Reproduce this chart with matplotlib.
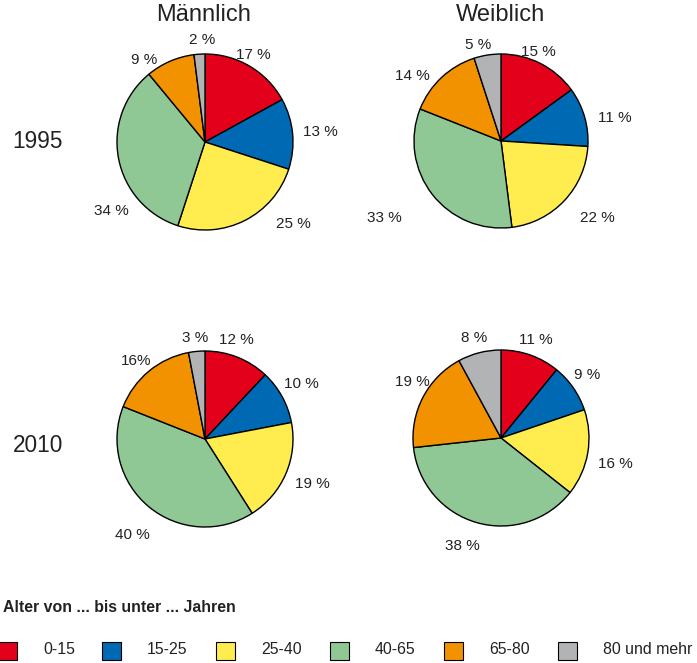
import matplotlib.pyplot as plt
from matplotlib.patches import Rectangle

plt.rcParams['font.family'] = ['Liberation Sans', 'DejaVu Sans']

# Altersgruppen und Farben
groups = ["0-15", "15-25", "25-40", "40-65", "65-80", "80 und mehr"]
colors = ["#E2001A", "#0069B4", "#FFED50", "#8FC895", "#F39200", "#B2B3B5"]

# Anteile in Prozent
m_1995 = [17, 13, 25, 34, 9, 2]
w_1995 = [15, 11, 22, 33, 14, 5]
m_2010 = [12, 10, 19, 40, 16, 3]
w_2010 = [11, 9, 16, 38, 19, 8]

m_1995_lbl = ["17 %", "13 %", "25 %", "34 %", "9 %", "2 %"]
w_1995_lbl = ["15 %", "11 %", "22 %", "33 %", "14 %", "5 %"]
m_2010_lbl = ["12 %", "10 %", "19 %", "40 %", "16%", "3 %"]
w_2010_lbl = ["11 %", "9 %", "16 %", "38 %", "19 %", "8 %"]

# Lage der Beschriftungen (in Radien, relativ zur Kreismitte)
pos_m_1995 = [(0.55, 0.99), (1.31, 0.11), (1.0, -0.93), (-1.06, -0.78), (-0.69, 0.93), (-0.03, 1.16)]
pos_w_1995 = [(0.43, 1.02), (1.31, 0.26), (1.11, -0.89), (-1.34, -0.89), (-1.02, 0.75), (-0.26, 1.10)]
pos_m_2010 = [(0.36, 1.13), (1.09, 0.63), (1.22, -0.51), (-0.83, -1.09), (-0.78, 0.89), (-0.11, 1.15)]
pos_w_2010 = [(0.39, 1.11), (0.98, 0.72), (1.30, -0.30), (-0.44, -1.23), (-1.01, 0.64), (-0.30, 1.14)]

# linke Kante der Legendenkästchen (Pixel)
legend_x = [-2, 102, 216, 330, 444, 558]

W, H = 697, 663
fig = plt.figure(figsize=(W / 100, H / 100), dpi=100)


def draw_pie(cx, cy, r, values, labels, positions):
    half = 1.6 * r
    ax = fig.add_axes([(cx - half) / W, (H - cy - half) / H, 2 * half / W, 2 * half / H])
    ax.pie(values, colors=colors, startangle=90, counterclock=False,
           wedgeprops=dict(edgecolor="black", linewidth=1.0))
    for lbl, (x, y) in zip(labels, positions):
        ax.text(x, y, lbl, ha="center", va="center", fontsize=11, color="#222222")
    ax.set_xlim(-1.6, 1.6)
    ax.set_ylim(-1.6, 1.6)
    ax.set_aspect("equal")
    ax.axis("off")


draw_pie(205, 142, 88, m_1995, m_1995_lbl, pos_m_1995)
draw_pie(501, 141, 87, w_1995, w_1995_lbl, pos_w_1995)
draw_pie(205, 439, 88, m_2010, m_2010_lbl, pos_m_2010)
draw_pie(501, 438, 88, w_2010, w_2010_lbl, pos_w_2010)

fig.text(204 / W, 1 - 15 / H, "Männlich", ha="center", va="center", fontsize=17, color="#222222")
fig.text(501 / W, 1 - 15 / H, "Weiblich", ha="center", va="center", fontsize=17, color="#222222")
fig.text(38 / W, 1 - 142 / H, "1995", ha="center", va="center", fontsize=16.3, color="#222222")
fig.text(38 / W, 1 - 445 / H, "2010", ha="center", va="center", fontsize=16.3, color="#222222")

# Legende
fig.text(3 / W, 1 - 607 / H, "Alter von ... bis unter ... Jahren", ha="left", va="center",
         fontsize=11.4, fontweight="bold", color="#222222")
for x0, g, c in zip(legend_x, groups, colors):
    fig.patches.append(Rectangle((x0 / W, 1 - 660 / H), 19 / W, 18 / H, facecolor=c,
                                 edgecolor="black", linewidth=0.8, transform=fig.transFigure))
    fig.text((x0 + 45) / W, 1 - 650 / H, g, ha="left", va="center", fontsize=11.4, color="#222222")

fig.savefig("out.png", dpi=100)
